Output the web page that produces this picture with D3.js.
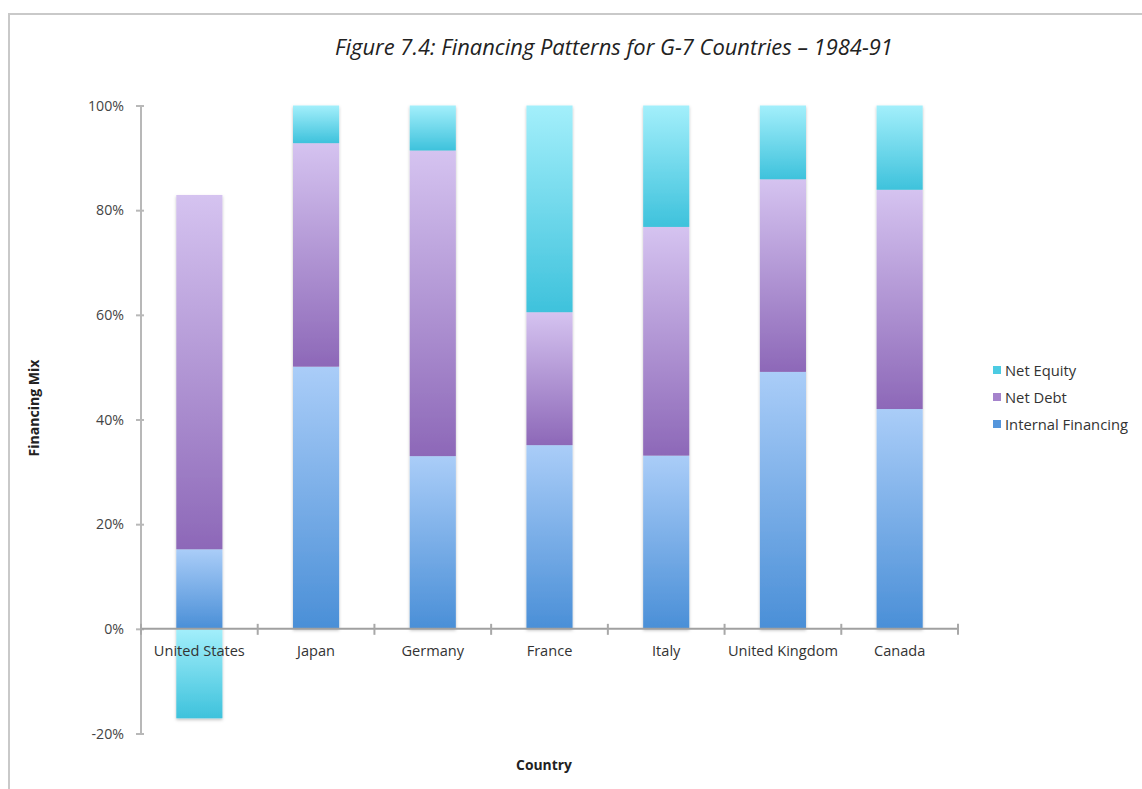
<!DOCTYPE html>
<html>
<head>
<meta charset="utf-8">
<script src="https://cdn.jsdelivr.net/npm/d3@7"></script>
<style>
  html, body { margin: 0; padding: 0; background: #fff; }
  svg { display: block; }
  text { font-family: "Open Sans", Lato, "DejaVu Sans", sans-serif; }
</style>
</head>
<body>
<svg id="chart" width="1142" height="789"></svg>
<script>
const categories = ["United States", "Japan", "Germany", "France", "Italy", "United Kingdom", "Canada"];
const internalFinancing = [15.2, 50.1, 33.0, 35.1, 33.1, 49.1, 42.0];
const netDebt = [67.7, 42.7, 58.4, 25.4, 43.7, 36.8, 41.9];
const netEquity = [-17.1, 7.2, 8.6, 39.5, 23.2, 14.1, 16.1];
const seriesNames = ["Internal Financing", "Net Debt", "Net Equity"];
const yTicks = [-20, 0, 20, 40, 60, 80, 100];
const titleText = "Figure 7.4: Financing Patterns for G-7 Countries \u2013 1984-91";

const seriesValues = [internalFinancing, netDebt, netEquity];
const gradStops = [
  ["#aacdf8", "#4a8fd7"],
  ["#d5c3f0", "#8d68b8"],
  ["#a3effb", "#3ec2dc"]
];
const legendColors = ["#5596dc", "#a583cc", "#4ccbe2"];

const svg = d3.select("#chart");

// measure helper: font size giving a target width
function fitSize(str, target, base, extra) {
  const t = svg.append("text").attr("font-size", base).text(str);
  if (extra) extra(t);
  const w = t.node().getComputedTextLength();
  t.remove();
  return w > 0 ? base * target / w : base;
}
const italic = t => t.attr("font-style", "italic");
const bold = t => t.attr("font-weight", "bold");
const titleSize = fitSize(titleText, 558, 20, italic);
const tickSize = fitSize("100%", 36, 13);
const catSize = fitSize("United States", 91, 13);
const legSize = fitSize("Internal Financing", 123, 13);
const countrySize = fitSize("Country", 56, 13, bold);
const mixSize = fitSize("Financing Mix", 97, 13, bold);

const defs = svg.append("defs");
seriesNames.forEach((s, i) => {
  const g = defs.append("linearGradient").attr("id", "grad" + i)
    .attr("x1", 0).attr("y1", 0).attr("x2", 0).attr("y2", 1);
  g.append("stop").attr("offset", "0%").attr("stop-color", gradStops[i][0]);
  g.append("stop").attr("offset", "100%").attr("stop-color", gradStops[i][1]);
});
const f = defs.append("filter").attr("id", "shadow").attr("x", "-20%").attr("y", "-20%").attr("width", "140%").attr("height", "140%");
f.append("feDropShadow").attr("dx", 0).attr("dy", 1.5).attr("stdDeviation", 1.5)
  .attr("flood-color", "#000").attr("flood-opacity", 0.25);

// frame
svg.append("path").attr("d", "M9,800 L9,14 L1150,14")
  .attr("fill", "none").attr("stroke", "#c9c9c9").attr("stroke-width", 2);

const x0 = 141, x1 = 958;
const x = d3.scaleBand().domain(categories).range([x0, x1]).paddingInner(0.605).paddingOuter(0.3025);
const y = d3.scaleLinear().domain([-20, 100]).range([733.5, 105.5]);
const step = x.step();

// y axis
const yAxis = d3.axisLeft(y).tickValues(yTicks).tickFormat(d => d + "%").tickSize(5).tickPadding(12);
const ya = svg.append("g").attr("transform", `translate(${x0},0)`).call(yAxis);
ya.attr("font-family", null);
ya.select(".domain").attr("stroke", "#b8b8b8").attr("stroke-width", 2).attr("d", `M0,${y(-20)}V${y(100)}`);
ya.selectAll(".tick line").attr("stroke", "#b8b8b8").attr("stroke-width", 2).attr("x1", 3);
ya.selectAll(".tick text").attr("fill", "#444").attr("font-size", tickSize).attr("x", -17);

// bars
const stacks = categories.map((c, i) => {
  let pos = 0, neg = 0;
  return seriesValues.map((vals, k) => {
    const v = vals[i];
    let lo, hi;
    if (v >= 0) { lo = pos; hi = pos + v; pos = hi; }
    else { hi = neg; lo = neg + v; neg = lo; }
    return { cat: c, k, lo, hi };
  });
});
const barG = svg.append("g").attr("filter", "url(#shadow)");
stacks.forEach(segs => {
  barG.selectAll(null).data(segs).enter().append("rect")
    .attr("x", d => x(d.cat))
    .attr("width", x.bandwidth())
    .attr("y", d => y(d.hi))
    .attr("height", d => y(d.lo) - y(d.hi))
    .attr("fill", d => `url(#grad${d.k})`);
});

// x axis at 0
const xa = svg.append("g");
xa.append("line").attr("x1", x0).attr("x2", x1).attr("y1", y(0)).attr("y2", y(0))
  .attr("stroke", "#a0a0a0").attr("stroke-width", 2);
const edges = categories.map(c => x(c) - x.paddingInner() * step / 2).concat([x1]);
xa.selectAll(".xt").data(edges).enter().append("line")
  .attr("x1", d => d).attr("x2", d => d).attr("y1", y(0) - 5).attr("y2", y(0) + 6)
  .attr("stroke", "#a8a8a8").attr("stroke-width", 2);
xa.selectAll(".xl").data(categories).enter().append("text")
  .attr("x", d => x(d) + x.bandwidth() / 2).attr("y", y(0) + 27)
  .attr("text-anchor", "middle").attr("font-size", catSize).attr("fill", "#333").text(d => d);

// title
svg.append("text").attr("x", 614).attr("y", 55).attr("text-anchor", "middle")
  .attr("font-size", titleSize).attr("font-style", "italic").attr("fill", "#222").text(titleText);

// axis titles
svg.append("text").attr("x", 544).attr("y", 770).attr("text-anchor", "middle")
  .attr("font-size", countrySize).attr("font-weight", "bold").attr("fill", "#222").text("Country");
svg.append("text").attr("transform", "translate(39,408) rotate(-90)").attr("text-anchor", "middle")
  .attr("font-size", mixSize).attr("font-weight", "bold").attr("fill", "#222").text("Financing Mix");

// legend
const legendOrder = [2, 1, 0];
const lg = svg.append("g");
legendOrder.forEach((k, i) => {
  const ly = 371 + i * 27;
  lg.append("rect").attr("x", 993).attr("y", ly - 5).attr("width", 8).attr("height", 8).attr("fill", legendColors[k]);
  lg.append("text").attr("x", 1005).attr("y", ly + 4.5).attr("font-size", legSize).attr("fill", "#333").text(seriesNames[k]);
});
</script>
</body>
</html>
